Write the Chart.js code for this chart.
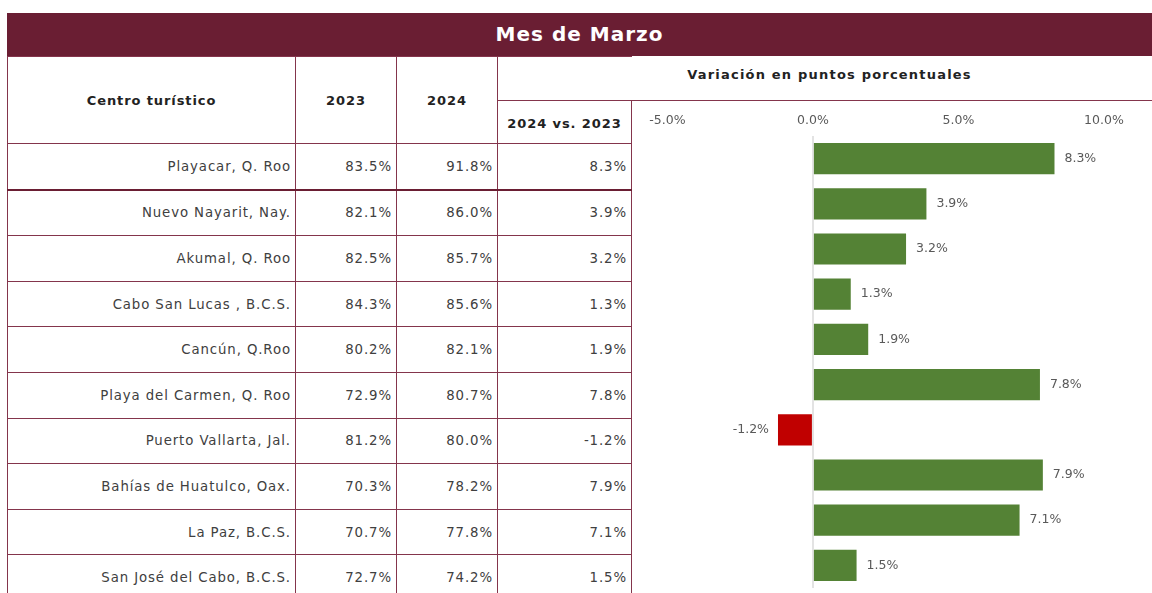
<!DOCTYPE html>
<html>
<head>
<meta charset="utf-8">
<script src="https://cdn.jsdelivr.net/npm/chart.js@4"></script>
<style>
  body { margin: 0; width: 1152px; height: 593px; overflow: hidden; background: #fff; font-family: "DejaVu Sans", sans-serif; position: relative; }
  .title { position: absolute; left: 7px; top: 13px; width: 1145px; height: 43px; background: #6a1e33; color: #fff;
           font-weight: bold; font-size: 20px; line-height: 43px; text-align: center; letter-spacing: 1px; }
  table { position: absolute; left: 7px; top: 56px; border-collapse: collapse; table-layout: fixed; width: 624px; }
  td, th { border: 1px solid #84354c; padding: 0 4px 0 0; font-size: 13px; color: #404040; white-space: nowrap; }
  th { font-weight: bold; color: #222; text-align: center; font-size: 13px; letter-spacing: 0.9px; padding: 0; }
  td { text-align: right; height: 44.6px; font-weight: normal; letter-spacing: 0.9px; font-size: 13.3px; }
  .hline { position: absolute; left: 631px; top: 100px; width: 521px; height: 1px; background: #84354c; }
  .var { position: absolute; left: 502px; width: 655px; top: 67px; text-align: center; font-weight: bold; font-size: 13px; color: #222; letter-spacing: 1.2px; }
  #wrap { position: absolute; left: 631px; top: 101px; width: 521px; height: 492px; }
</style>
</head>
<body>
<div class="title">Mes de Marzo</div>
<table id="tbl">
  <colgroup><col style="width:288px"><col style="width:101px"><col style="width:101px"><col style="width:134px"></colgroup>
  <thead>
    <tr style="height:44px"><th rowspan="2">Centro turístico</th><th rowspan="2">2023</th><th rowspan="2">2024</th><th style="border-right:none"></th></tr>
    <tr style="height:43px"><th style="padding-top:2px">2024 vs. 2023</th></tr>
  </thead>
  <tbody id="rows"></tbody>
</table>
<div class="hline"></div>
<div class="var">Variación en puntos porcentuales</div>
<div id="wrap"><canvas id="myChart"></canvas></div>
<script>
const centros = ['Playacar, Q. Roo', 'Nuevo Nayarit, Nay.', 'Akumal, Q. Roo', 'Cabo San Lucas , B.C.S.', 'Cancún, Q.Roo',
  'Playa del Carmen, Q. Roo', 'Puerto Vallarta, Jal.', 'Bahías de Huatulco, Oax.', 'La Paz, B.C.S.', 'San José del Cabo, B.C.S.'];
const ocup2023 = [83.5, 82.1, 82.5, 84.3, 80.2, 72.9, 81.2, 70.3, 70.7, 72.7];
const ocup2024 = [91.8, 86.0, 85.7, 85.6, 82.1, 80.7, 80.0, 78.2, 77.8, 74.2];
const variacion = [8.3, 3.9, 3.2, 1.3, 1.9, 7.8, -1.2, 7.9, 7.1, 1.5];
const tickValues = [-5, 0, 5, 10];

const rowsEl = document.getElementById('rows');
centros.forEach((c, i) => {
  const tr = document.createElement('tr');
  tr.innerHTML = '<td>' + c + '</td><td>' + ocup2023[i].toFixed(1) + '%</td><td>' +
    ocup2024[i].toFixed(1) + '%</td><td>' + variacion[i].toFixed(1) + '%</td>';
  if (i === 0) tr.style.borderBottom = '2px solid #6a1e33';
  rowsEl.appendChild(tr);
});

// etiquetas de valor junto a cada barra
const valueLabels = {
  id: 'valueLabels',
  afterDatasetsDraw(chart) {
    const ctx = chart.ctx;
    const meta = chart.getDatasetMeta(0);
    ctx.save();
    ctx.font = '12.5px "DejaVu Sans", sans-serif';
    ctx.fillStyle = '#595959';
    ctx.textBaseline = 'middle';
    meta.data.forEach((bar, i) => {
      const v = variacion[i];
      const txt = v.toFixed(1) + '%';
      if (v >= 0) { ctx.textAlign = 'left'; ctx.fillText(txt, bar.x + 10, bar.y); }
      else { ctx.textAlign = 'right'; ctx.fillText(txt, bar.x - 9, bar.y); }
    });
    ctx.restore();
  }
};

const ctx = document.getElementById('myChart').getContext('2d');
const myChart = new Chart(ctx, {
  type: 'bar',
  data: {
    labels: centros,
    datasets: [{
      data: variacion,
      backgroundColor: variacion.map(v => v < 0 ? '#c00000' : '#548235'),
      borderWidth: 0,
      barPercentage: 0.69,
      categoryPercentage: 1
    }]
  },
  options: {
    indexAxis: 'y',
    responsive: true,
    maintainAspectRatio: false,
    animation: false,
    layout: { padding: { top: 4, left: 0, right: 0, bottom: 5 } },
    plugins: { legend: { display: false }, tooltip: { enabled: false } },
    scales: {
      x: {
        position: 'top',
        min: -6.25,
        max: 11.65,
        afterBuildTicks: axis => { axis.ticks = tickValues.map(v => ({ value: v })); },
        ticks: {
          padding: 8,
          color: '#595959',
          font: { size: 12.5, family: '"DejaVu Sans", sans-serif' },
          callback: v => v.toFixed(1) + '%'
        },
        grid: {
          drawTicks: false,
          lineWidth: 2,
          color: c => (c.tick && c.tick.value === 0) ? '#e3e3e3' : 'rgba(0,0,0,0)'
        },
        border: { display: false }
      },
      y: { display: false }
    }
  },
  plugins: [valueLabels]
});
</script>
</body>
</html>
